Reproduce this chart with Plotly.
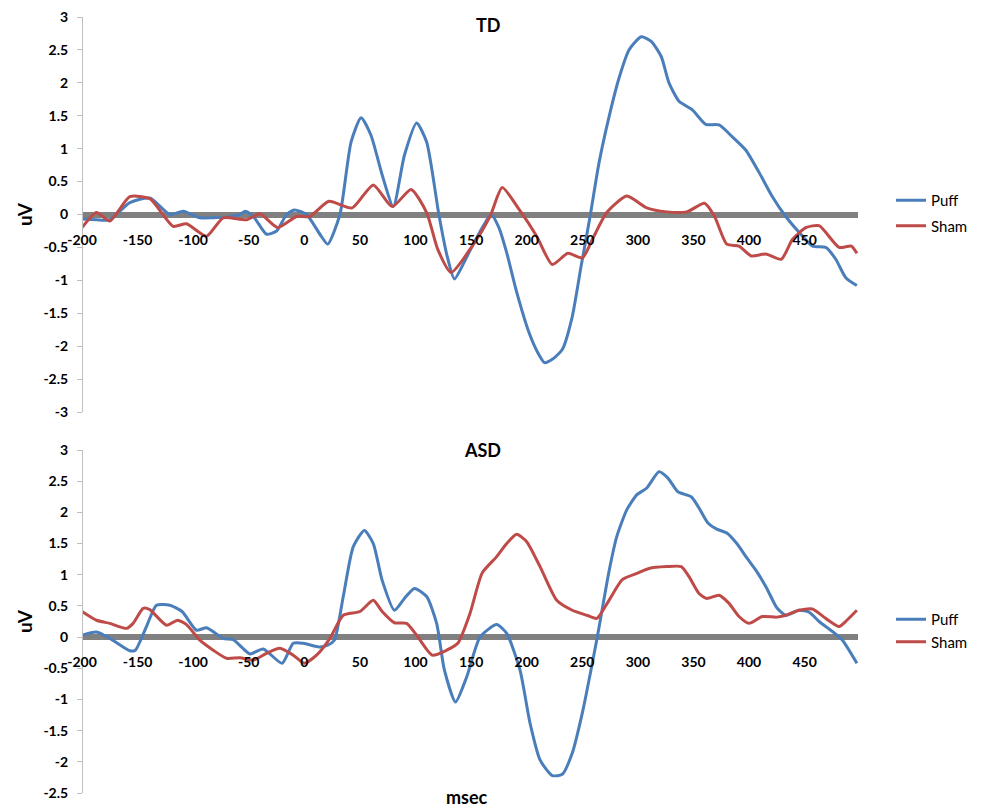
import plotly.graph_objects as go

# ---------------- data ----------------
td_puff_t = [-200, -187, -175, -157, -139, -121, -109, -94, -82, -70, -58, -53, -45, -34, -25, -16, -9, 2, 14, 21,
             32, 42, 51, 60, 70, 80, 90, 101, 110, 121, 128, 135, 143, 151, 160, 168, 175, 182, 191, 202, 210, 216,
             223, 232, 241, 249, 257, 265, 274, 283, 292, 303, 312, 321, 328, 337, 349, 361, 373, 385, 397, 409,
             421, 433, 445, 457, 469, 478, 487, 497]
td_puff_v = [-0.07, -0.08, -0.08, 0.18, 0.25, 0.0, 0.05, -0.05, -0.05, -0.04, 0.0, 0.05, -0.05, -0.3, -0.25, 0.0,
             0.07, 0.0, -0.3, -0.45, 0.0, 1.1, 1.47, 1.2, 0.6, 0.12, 0.9, 1.39, 1.1, 0.0, -0.6, -0.98, -0.75,
             -0.48, -0.2, 0.0, -0.2, -0.58, -1.18, -1.79, -2.1, -2.25, -2.2, -2.05, -1.55, -0.78, -0.03, 0.78,
             1.48, 2.07, 2.5, 2.7, 2.63, 2.4, 2.0, 1.72, 1.59, 1.37, 1.36, 1.18, 0.98, 0.64, 0.27, -0.03, -0.27,
             -0.48, -0.5, -0.68, -0.96, -1.08]

td_sham_t = [-200, -187, -175, -157, -139, -118, -106, -88, -73, -52, -40, -24, -7, 5, 22, 43, 62, 79, 96, 110,
             120, 132, 151, 167, 178, 193, 209, 223, 237, 250, 259, 272, 290, 308, 326, 344, 360, 369, 380, 391,
             402, 415, 429, 439, 451, 463, 481, 492, 497]
td_sham_v = [-0.2, 0.03, -0.1, 0.27, 0.24, -0.18, -0.14, -0.33, -0.05, -0.08, 0.01, -0.2, -0.03, -0.03, 0.2, 0.1,
             0.45, 0.12, 0.38, 0.03, -0.53, -0.88, -0.48, -0.03, 0.41, 0.08, -0.33, -0.76, -0.59, -0.66, -0.38,
             0.03, 0.28, 0.1, 0.04, 0.04, 0.17, -0.03, -0.45, -0.48, -0.63, -0.6, -0.68, -0.38, -0.2, -0.17,
             -0.5, -0.48, -0.59]

asd_puff_t = [-200, -187, -175, -157, -152, -142, -133, -121, -110, -97, -88, -73, -64, -49, -37, -20, -10, -1, 14,
              21, 27, 35, 44, 54, 62, 70, 81, 90, 99, 110, 119, 126, 136, 146, 158, 173, 182, 194, 203, 212, 223,
              232, 241, 250, 259, 265, 274, 281, 290, 299, 308, 319, 327, 336, 348, 355, 363, 371, 380, 389, 398,
              407, 416, 425, 433, 445, 454, 463, 475, 484, 497]
asd_puff_v = [0.03, 0.08, -0.02, -0.22, -0.21, 0.17, 0.51, 0.51, 0.41, 0.11, 0.15, -0.02, -0.04, -0.27, -0.19,
              -0.42, -0.1, -0.1, -0.16, -0.13, -0.05, 0.65, 1.45, 1.71, 1.5, 0.91, 0.43, 0.62, 0.78, 0.65, 0.22,
              -0.53, -1.04, -0.64, 0.0, 0.2, 0.06, -0.53, -1.38, -1.97, -2.22, -2.2, -1.86, -1.22, -0.42, 0.15,
              1.05, 1.61, 2.04, 2.28, 2.39, 2.65, 2.55, 2.33, 2.25, 2.07, 1.83, 1.73, 1.67, 1.5, 1.27, 1.05,
              0.78, 0.47, 0.35, 0.43, 0.4, 0.25, 0.09, -0.05, -0.42]

asd_sham_t = [-200, -187, -175, -160, -154, -145, -139, -124, -114, -106, -94, -82, -70, -58, -46, -34, -22, -10,
              0, 11, 23, 35, 50, 62, 70, 81, 92, 101, 115, 128, 138, 149, 160, 173, 182, 191, 200, 212, 227, 241,
              254, 263, 274, 286, 299, 310, 326, 339, 346, 355, 362, 373, 382, 391, 400, 412, 425, 433, 445, 457,
              469, 481, 488, 497]
asd_sham_v = [0.41, 0.27, 0.22, 0.14, 0.22, 0.46, 0.44, 0.19, 0.27, 0.2, -0.05, -0.21, -0.34, -0.33, -0.37,
              -0.26, -0.18, -0.29, -0.42, -0.29, -0.02, 0.35, 0.41, 0.59, 0.41, 0.23, 0.22, 0.03, -0.29, -0.21,
              -0.1, 0.38, 1.03, 1.29, 1.5, 1.65, 1.53, 1.13, 0.59, 0.43, 0.35, 0.3, 0.59, 0.92, 1.02, 1.1, 1.13,
              1.13, 0.97, 0.7, 0.62, 0.67, 0.54, 0.33, 0.22, 0.33, 0.32, 0.35, 0.43, 0.45, 0.3, 0.17, 0.27, 0.43]

x_tick_vals = [-200, -150, -100, -50, 0, 50, 100, 150, 200, 250, 300, 350, 400, 450]
x_tick_text = ["-200", "-150", "-100", "-50", "0", "50", "100", "150", "200", "250", "300", "350", "400", "450"]
td_y_vals = [3, 2.5, 2, 1.5, 1, 0.5, 0, -0.5, -1, -1.5, -2, -2.5, -3]
td_y_text = ["3", "2.5", "2", "1.5", "1", "0.5", "0", "-0.5", "-1", "-1.5", "-2", "-2.5", "-3"]
asd_y_vals = [3, 2.5, 2, 1.5, 1, 0.5, 0, -0.5, -1, -1.5, -2, -2.5]
asd_y_text = ["3", "2.5", "2", "1.5", "1", "0.5", "0", "-0.5", "-1", "-1.5", "-2", "-2.5"]

# ---------------- layout constants ----------------
W, H = 988, 807
OFF = 8  # default page body margin
FONT = "Lato, 'Open Sans', sans-serif"
BLUE = "#4A7EBB"
RED = "#BE4B48"


def px_x(px):
    return (px - OFF) / W


def py(px):
    return 1 - (px - OFF) / H


x_dom = [px_x(82), px_x(858)]
top_dom = [py(412), py(17)]
bot_dom = [py(793), py(450)]

fig = go.Figure()

fig.add_trace(go.Scatter(x=td_puff_t, y=td_puff_v, name="Puff", mode="lines", xaxis="x", yaxis="y",
                         line=dict(color=BLUE, width=3, shape="spline", smoothing=0.6),
                         legend="legend", legendgroup="a"))
fig.add_trace(go.Scatter(x=td_sham_t, y=td_sham_v, name="Sham", mode="lines", xaxis="x", yaxis="y",
                         line=dict(color=RED, width=3, shape="spline", smoothing=0.6),
                         legend="legend", legendgroup="b"))
fig.add_trace(go.Scatter(x=asd_puff_t, y=asd_puff_v, name="Puff", mode="lines", xaxis="x2", yaxis="y2",
                         line=dict(color=BLUE, width=3, shape="spline", smoothing=0.6),
                         legend="legend2", legendgroup="c"))
fig.add_trace(go.Scatter(x=asd_sham_t, y=asd_sham_v, name="Sham", mode="lines", xaxis="x2", yaxis="y2",
                         line=dict(color=RED, width=3, shape="spline", smoothing=0.6),
                         legend="legend2", legendgroup="d"))

tickfont = dict(family=FONT, size=14, color="black", weight="bold")

xcommon = dict(range=[-200, 498], tickvals=x_tick_vals, ticktext=x_tick_text, showgrid=False,
               zeroline=False, showline=False, ticks="outside", ticklen=12, tickcolor="rgba(0,0,0,0)",
               tickfont=tickfont, anchor="free", domain=x_dom, automargin=False, ticklabeloverflow="allow")
ycommon = dict(showgrid=False, showline=True, linecolor="#BFBFBF", linewidth=1, ticks="outside", ticklen=5,
               tickcolor="#BFBFBF", tickfont=tickfont, zeroline=True, zerolinecolor="#808080",
               zerolinewidth=6, anchor="free", position=x_dom[0], ticklabelstandoff=6, automargin=False,
               ticklabeloverflow="allow",
               title=dict(text="uV", font=dict(family=FONT, size=19, color="black", weight="bold"), standoff=4))

title_font = dict(family=FONT, size=18, color="black", weight="bold")

fig.update_layout(
    width=W, height=H, margin=dict(l=0, r=0, t=0, b=0, autoexpand=False),
    paper_bgcolor="white", plot_bgcolor="white",
    xaxis=dict(**xcommon, position=py(215)),
    xaxis2=dict(**xcommon, position=py(637)),
    yaxis=dict(**ycommon, domain=top_dom, range=[-3, 3], tickvals=td_y_vals, ticktext=td_y_text),
    yaxis2=dict(**ycommon, domain=bot_dom, range=[-2.5, 3], tickvals=asd_y_vals, ticktext=asd_y_text),
    legend=dict(x=px_x(891), y=py(184), xanchor="left", yanchor="top", tracegroupgap=3,
                font=dict(family=FONT, size=15, color="black"), bgcolor="rgba(0,0,0,0)"),
    legend2=dict(x=px_x(891), y=py(603), xanchor="left", yanchor="top", tracegroupgap=0,
                 font=dict(family=FONT, size=15, color="black"), bgcolor="rgba(0,0,0,0)"),
    annotations=[
        dict(text="TD", x=px_x(488), y=py(25), xref="paper", yref="paper", showarrow=False,
             xanchor="center", yanchor="middle", font=title_font),
        dict(text="ASD", x=px_x(482), y=py(450), xref="paper", yref="paper", showarrow=False,
             xanchor="center", yanchor="middle", font=title_font),
        dict(text="msec", x=px_x(467), y=py(797), xref="paper", yref="paper", showarrow=False,
             xanchor="center", yanchor="middle", font=title_font),
    ],
)

fig.write_html("out.html")
